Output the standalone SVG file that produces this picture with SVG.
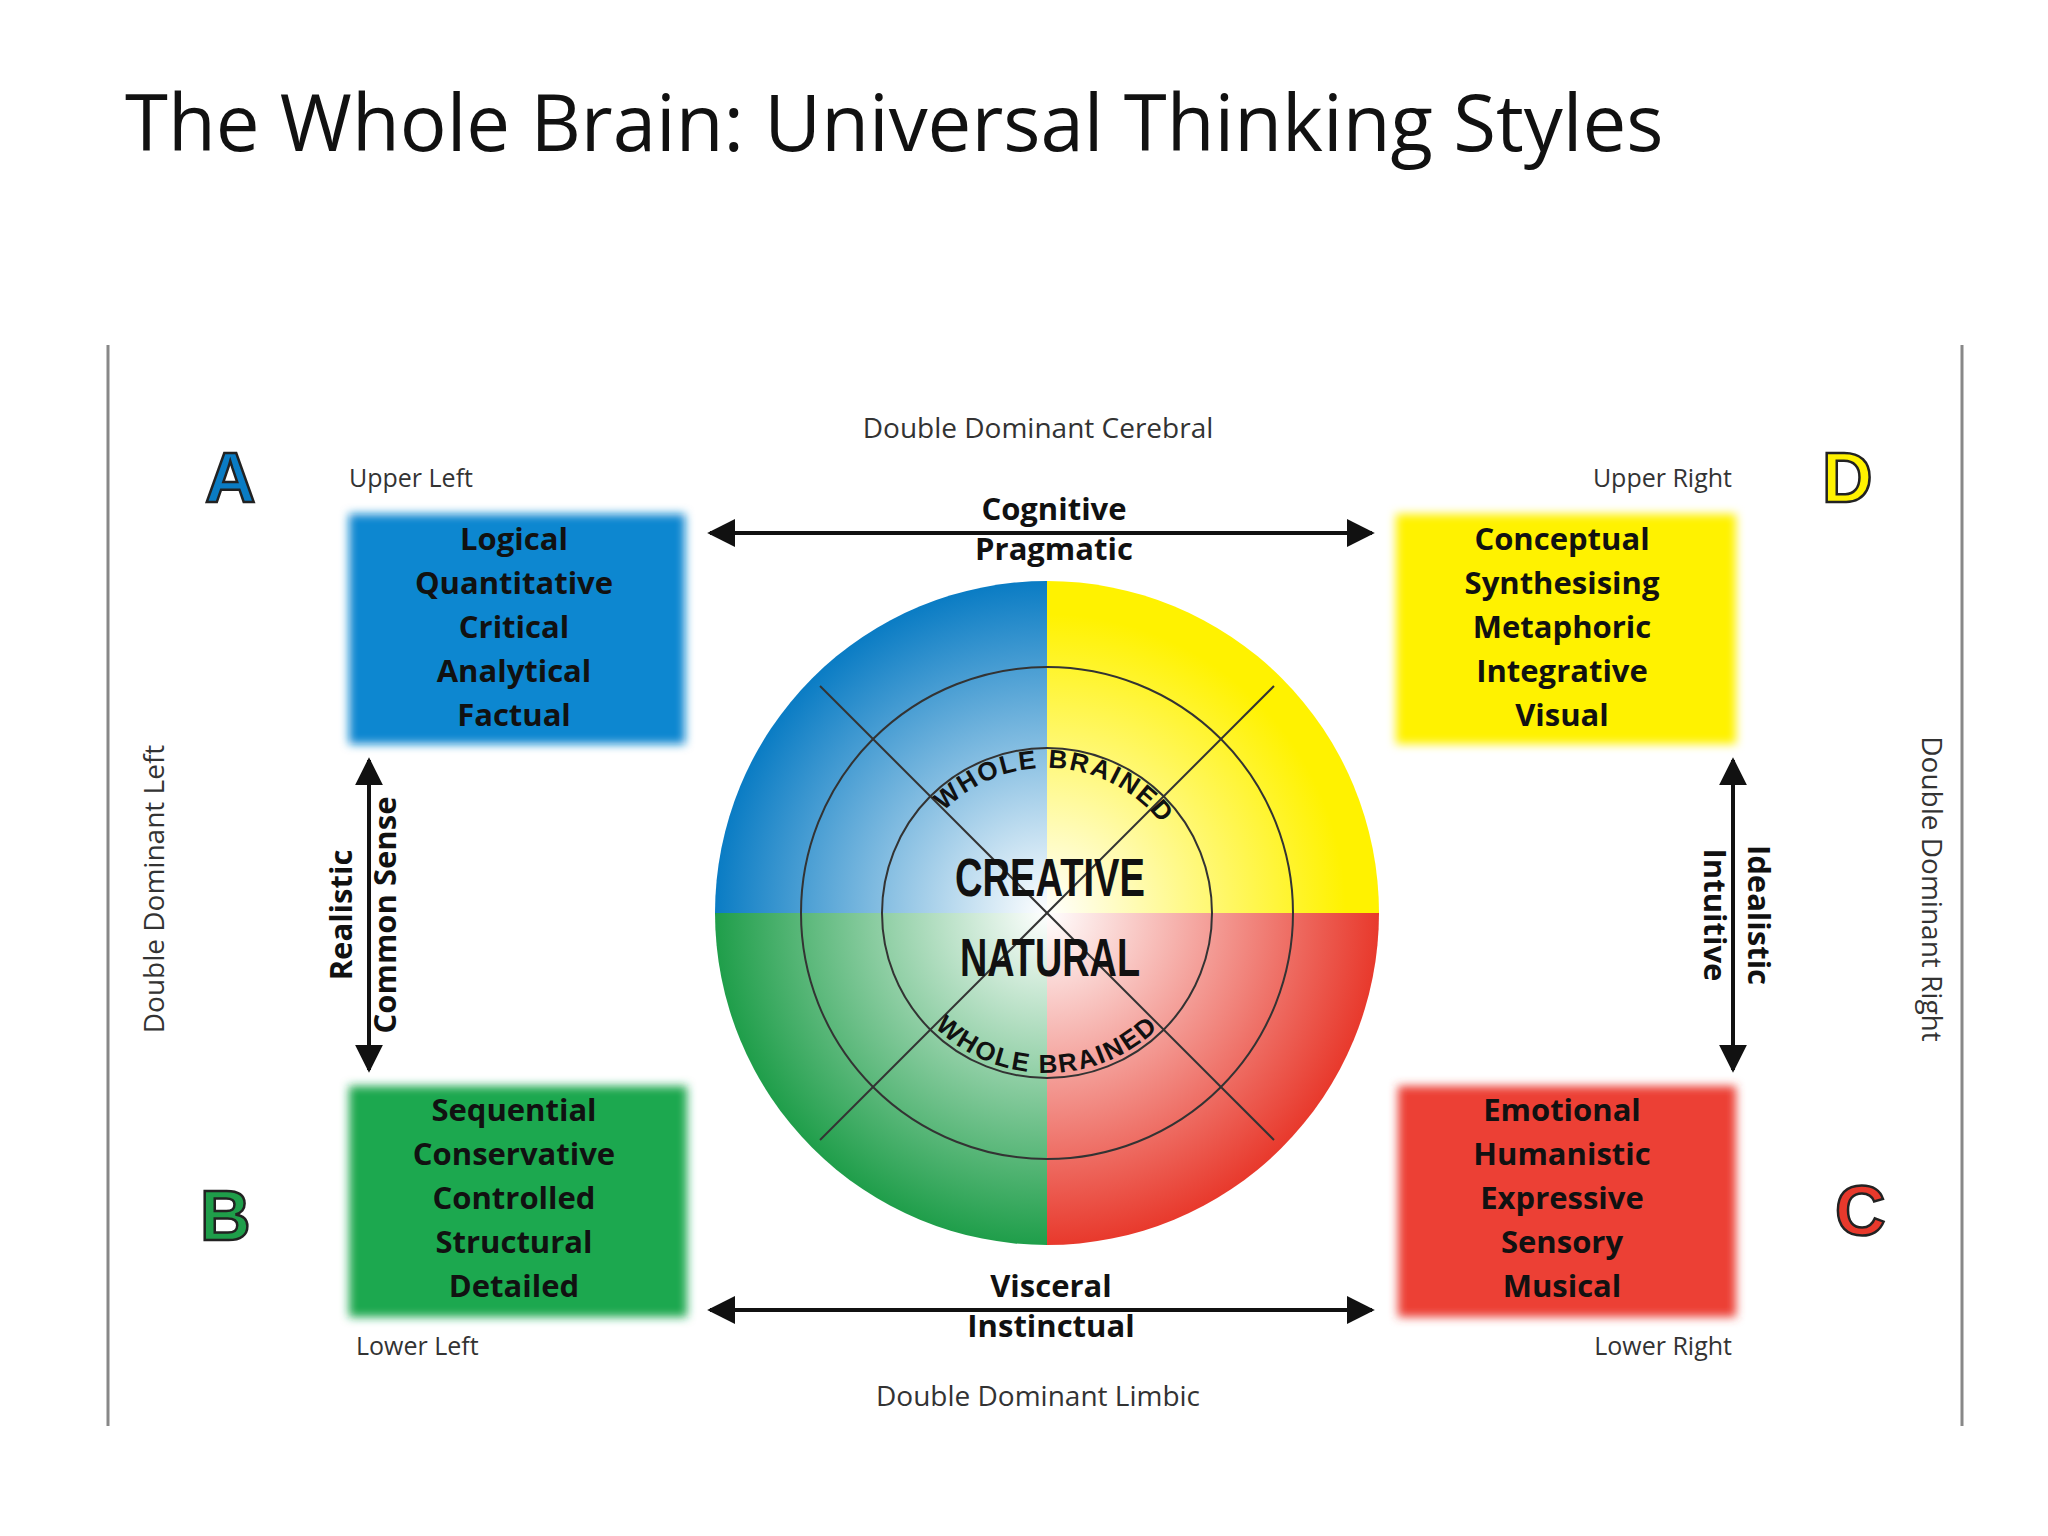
<svg xmlns="http://www.w3.org/2000/svg" width="2048" height="1536" viewBox="0 0 2048 1536">
<defs>
<style>
.t{font-family:"Open Sans","Liberation Sans",sans-serif;fill:#333}
.s{font-size:28px}
.b{font-family:"Open Sans","Liberation Sans",sans-serif;font-weight:bold;font-size:31px;fill:#111;text-anchor:middle}
.ln{stroke:#111;stroke-width:4;fill:none}
.c{fill:none;stroke:#333;stroke-width:2}
.L{font-family:"Liberation Sans",sans-serif;font-weight:bold;font-size:70px;stroke:#222;stroke-width:2.5}
</style>
<filter id="blur" x="-5%" y="-5%" width="110%" height="110%"><feGaussianBlur stdDeviation="5"/></filter>
<marker id="ar" viewBox="0 0 10 10" refX="9" refY="5" markerWidth="7" markerHeight="7" orient="auto-start-reverse"><path d="M0,0 L10,5 L0,10 z" fill="#111"/></marker>
<radialGradient id="gb" cx="1047" cy="913" r="332" gradientUnits="userSpaceOnUse"><stop offset="0" stop-color="#fff"/><stop offset="1" stop-color="#0a7cc4"/></radialGradient>
<radialGradient id="gy" cx="1047" cy="913" r="332" gradientUnits="userSpaceOnUse"><stop offset="0" stop-color="#fff"/><stop offset="0.9" stop-color="#fff200"/></radialGradient>
<radialGradient id="gg" cx="1047" cy="913" r="332" gradientUnits="userSpaceOnUse"><stop offset="0" stop-color="#fff"/><stop offset="1" stop-color="#1f9e4a"/></radialGradient>
<radialGradient id="gr" cx="1047" cy="913" r="332" gradientUnits="userSpaceOnUse"><stop offset="0" stop-color="#fff"/><stop offset="1" stop-color="#e8392c"/></radialGradient>
<path id="arcT" d="M902,913 A145,145 0 0 1 1192,913"/>
<path id="arcB" d="M887,913 A160,160 0 0 0 1207,913"/>
</defs>
<rect width="2048" height="1536" fill="#fff"/>
<text x="125" y="151" font-family="Open Sans,Liberation Sans,sans-serif" font-size="78" fill="#111">The Whole Brain: Universal Thinking Styles</text>
<line x1="108" y1="345" x2="108" y2="1426" stroke="#888" stroke-width="3"/>
<line x1="1962" y1="345" x2="1962" y2="1426" stroke="#888" stroke-width="3"/>
<g id="labels">
<text class="t s" x="1038" y="438" text-anchor="middle">Double Dominant Cerebral</text>
<text class="t s" x="1038" y="1406" text-anchor="middle">Double Dominant Limbic</text>
<text class="t s" transform="translate(164,889) rotate(-90)" text-anchor="middle">Double Dominant Left</text>
<text class="t s" transform="translate(1922,889) rotate(90)" text-anchor="middle">Double Dominant Right</text>
<text class="t" font-size="25" x="349" y="487">Upper Left</text>
<text class="t" font-size="25" x="1732" y="487" text-anchor="end">Upper Right</text>
<text class="t" font-size="25" x="356" y="1355">Lower Left</text>
<text class="t" font-size="25" x="1732" y="1355" text-anchor="end">Lower Right</text>
<text class="L" x="205" y="502" fill="#0a7cc4">A</text>
<text class="L" x="1822" y="502" fill="#fff200">D</text>
<text class="L" x="200" y="1240" fill="#1f9e4a">B</text>
<text class="L" x="1835" y="1235" fill="#e8392c">C</text>
</g>
<g id="nodeA"><rect x="349" y="514" width="336" height="230" fill="#0a87d0" filter="url(#blur)"/>
<text class="b" x="514" y="550">Logical</text><text class="b" x="514" y="594">Quantitative</text><text class="b" x="514" y="638">Critical</text><text class="b" x="514" y="682">Analytical</text><text class="b" x="514" y="726">Factual</text></g>
<g id="nodeD"><rect x="1396" y="514" width="340" height="230" fill="#fff200" filter="url(#blur)"/>
<text class="b" x="1562" y="550">Conceptual</text><text class="b" x="1562" y="594">Synthesising</text><text class="b" x="1562" y="638">Metaphoric</text><text class="b" x="1562" y="682">Integrative</text><text class="b" x="1562" y="726">Visual</text></g>
<g id="nodeB"><rect x="349" y="1086" width="338" height="231" fill="#1fa84f" filter="url(#blur)"/>
<text class="b" x="514" y="1121">Sequential</text><text class="b" x="514" y="1165">Conservative</text><text class="b" x="514" y="1209">Controlled</text><text class="b" x="514" y="1253">Structural</text><text class="b" x="514" y="1297">Detailed</text></g>
<g id="nodeC"><rect x="1398" y="1086" width="338" height="231" fill="#ec4134" filter="url(#blur)"/>
<text class="b" x="1562" y="1121">Emotional</text><text class="b" x="1562" y="1165">Humanistic</text><text class="b" x="1562" y="1209">Expressive</text><text class="b" x="1562" y="1253">Sensory</text><text class="b" x="1562" y="1297">Musical</text></g>
<g id="wheel">
<path d="M1047,913 L715,913 A332,332 0 0 1 1047,581 Z" fill="url(#gb)"/>
<path d="M1047,913 L1047,581 A332,332 0 0 1 1379,913 Z" fill="url(#gy)"/>
<path d="M1047,913 L1379,913 A332,332 0 0 1 1047,1245 Z" fill="url(#gr)"/>
<path d="M1047,913 L1047,1245 A332,332 0 0 1 715,913 Z" fill="url(#gg)"/>
<circle class="c" cx="1047" cy="913" r="246"/>
<circle class="c" cx="1047" cy="913" r="165"/>
<line class="c" x1="820" y1="686" x2="1274" y2="1140"/>
<line class="c" x1="1274" y1="686" x2="820" y2="1140"/>
<text font-family="Liberation Sans,sans-serif" font-weight="bold" font-size="26" fill="#111" letter-spacing="2"><textPath href="#arcT" startOffset="52%" text-anchor="middle">WHOLE BRAINED</textPath></text>
<text font-family="Liberation Sans,sans-serif" font-weight="bold" font-size="26" fill="#111" letter-spacing="2"><textPath href="#arcB" startOffset="50%" text-anchor="middle">WHOLE BRAINED</textPath></text>
<text x="1050" y="896" text-anchor="middle" font-family="Liberation Sans Narrow,Liberation Sans,sans-serif" font-weight="bold" font-size="54" fill="#111" textLength="190" lengthAdjust="spacingAndGlyphs">CREATIVE</text>
<text x="1050" y="976" text-anchor="middle" font-family="Liberation Sans Narrow,Liberation Sans,sans-serif" font-weight="bold" font-size="54" fill="#111" textLength="180" lengthAdjust="spacingAndGlyphs">NATURAL</text>
</g>
<g id="connectors">
<line class="ln" x1="710" y1="533" x2="1372" y2="533" marker-start="url(#ar)" marker-end="url(#ar)"/>
<line class="ln" x1="710" y1="1310" x2="1372" y2="1310" marker-start="url(#ar)" marker-end="url(#ar)"/>
<line class="ln" x1="369" y1="760" x2="369" y2="1070" marker-start="url(#ar)" marker-end="url(#ar)"/>
<line class="ln" x1="1733" y1="760" x2="1733" y2="1070" marker-start="url(#ar)" marker-end="url(#ar)"/>
<text class="b" font-size="28" x="1054" y="520">Cognitive</text>
<text class="b" font-size="28" x="1054" y="560">Pragmatic</text>
<text class="b" font-size="28" x="1051" y="1297">Visceral</text>
<text class="b" font-size="28" x="1051" y="1337">Instinctual</text>
<text class="b" font-size="28" transform="translate(352,915) rotate(-90)">Realistic</text>
<text class="b" font-size="28" transform="translate(396,915) rotate(-90)">Common Sense</text>
<text class="b" font-size="28" transform="translate(1748,915) rotate(90)">Idealistic</text>
<text class="b" font-size="28" transform="translate(1704,915) rotate(90)">Intuitive</text>
</g>
</svg>
